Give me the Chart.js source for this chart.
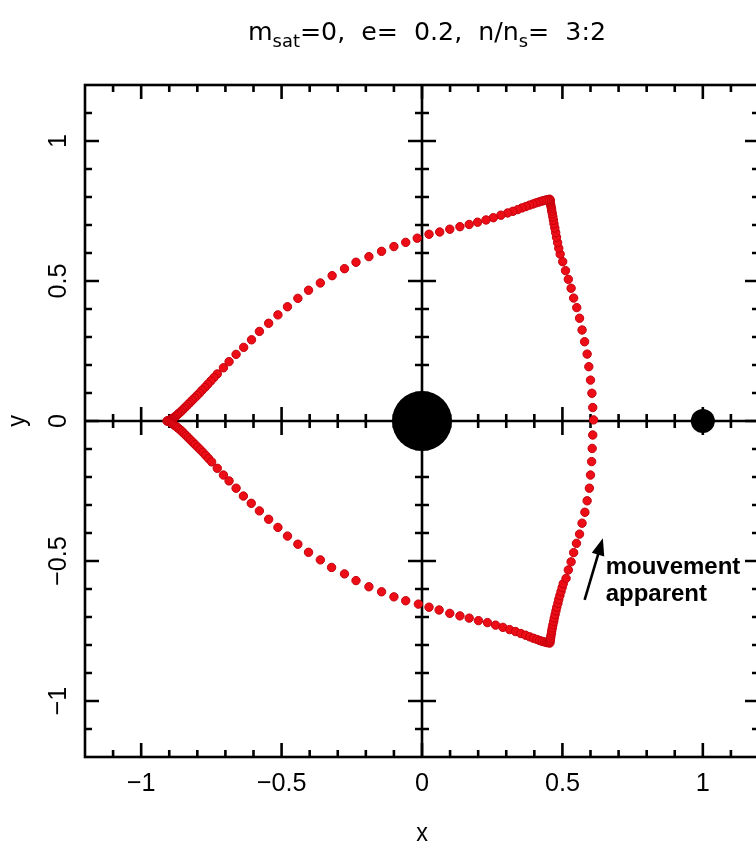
<!DOCTYPE html>
<html>
<head>
<meta charset="utf-8">
<script src="https://cdn.jsdelivr.net/npm/chart.js@4/dist/chart.umd.min.js"></script>
<style>
  html, body { margin: 0; padding: 0; background: #fff; overflow: hidden; }
  #wrap { width: 756px; height: 846px; overflow: hidden; }
</style>
</head>
<body>
<div id="wrap"><canvas id="orbit" width="790" height="846"></canvas></div>
<script>
// apparent orbit (upper half then lower half)
const rightArcUpper = [
  [0.611,0.004],[0.608,0.048],[0.605,0.099],[0.600,0.146],[0.594,0.194],[0.588,0.239],
  [0.579,0.283],[0.570,0.325],[0.561,0.367],[0.551,0.405],[0.540,0.439],[0.531,0.474],
  [0.521,0.506],[0.511,0.537],[0.501,0.569],[0.492,0.596],[0.487,0.617],[0.483,0.637],
  [0.479,0.656],[0.476,0.673],[0.473,0.689],[0.470,0.704],[0.468,0.717],[0.466,0.729],
  [0.464,0.740],[0.462,0.750],[0.461,0.759],[0.459,0.767],[0.458,0.774],[0.457,0.780],
  [0.456,0.785],[0.456,0.789],[0.455,0.792]
];
const topArc = [
  [0.451,0.791],[0.446,0.790],[0.440,0.789],[0.433,0.787],[0.425,0.785],[0.416,0.782],
  [0.406,0.779],[0.395,0.775],[0.383,0.771],[0.370,0.766],[0.356,0.761],[0.341,0.755],
  [0.324,0.749],[0.305,0.743],[0.281,0.735],[0.254,0.726],[0.228,0.718],[0.198,0.710],
  [0.168,0.702],[0.135,0.694],[0.099,0.685],[0.063,0.675],[0.025,0.667],[-0.017,0.653],
  [-0.058,0.638],[-0.100,0.623],[-0.144,0.606],[-0.189,0.587],[-0.235,0.567],[-0.276,0.544],
  [-0.320,0.519],[-0.362,0.493],[-0.404,0.467],[-0.442,0.438],[-0.479,0.408],[-0.513,0.379],
  [-0.546,0.349],[-0.579,0.320],[-0.607,0.290],[-0.635,0.263],[-0.662,0.238],[-0.687,0.212],
  [-0.707,0.190],[-0.729,0.168],[-0.741,0.155],[-0.752,0.143],[-0.763,0.131],[-0.773,0.120],
  [-0.783,0.110],[-0.792,0.100],[-0.801,0.091],[-0.810,0.082],[-0.818,0.074],[-0.826,0.066],
  [-0.833,0.059],[-0.840,0.052],[-0.847,0.045],[-0.853,0.039],[-0.859,0.033],[-0.865,0.028],
  [-0.870,0.023],[-0.875,0.019],[-0.880,0.015],[-0.885,0.011],[-0.889,0.008],[-0.893,0.006],
  [-0.897,0.004],[-0.901,0.002],[-0.905,0.001],[-0.908,0.000]
];
const bottomArc = [
  [-0.905,-0.001],[-0.901,-0.002],[-0.897,-0.004],[-0.893,-0.006],[-0.889,-0.009],[-0.885,-0.012],
  [-0.880,-0.016],[-0.875,-0.020],[-0.870,-0.024],[-0.864,-0.029],[-0.858,-0.034],[-0.852,-0.040],
  [-0.846,-0.046],[-0.839,-0.053],[-0.832,-0.060],[-0.824,-0.068],[-0.816,-0.076],[-0.808,-0.084],
  [-0.799,-0.093],[-0.790,-0.102],[-0.780,-0.112],[-0.770,-0.123],[-0.760,-0.134],[-0.749,-0.146],
  [-0.729,-0.169],[-0.707,-0.193],[-0.687,-0.214],[-0.662,-0.240],[-0.636,-0.268],[-0.608,-0.294],
  [-0.579,-0.321],[-0.546,-0.351],[-0.513,-0.380],[-0.479,-0.411],[-0.442,-0.440],[-0.404,-0.469],
  [-0.362,-0.496],[-0.322,-0.523],[-0.276,-0.546],[-0.235,-0.570],[-0.189,-0.592],[-0.144,-0.610],
  [-0.100,-0.628],[-0.058,-0.642],[-0.013,-0.654],[0.025,-0.665],[0.061,-0.675],[0.099,-0.687],
  [0.135,-0.696],[0.168,-0.704],[0.201,-0.713],[0.233,-0.720],[0.262,-0.729],[0.288,-0.737],
  [0.312,-0.745],[0.333,-0.752],[0.352,-0.759],[0.369,-0.765],[0.384,-0.771],[0.397,-0.776],
  [0.409,-0.780],[0.419,-0.784],[0.428,-0.787],[0.436,-0.789],[0.443,-0.791],[0.449,-0.792],
  [0.455,-0.793]
];
const rightArcLower = [
  [0.456,-0.788],[0.457,-0.782],[0.458,-0.775],[0.459,-0.767],[0.461,-0.758],[0.462,-0.749],
  [0.464,-0.739],[0.466,-0.728],[0.469,-0.716],[0.471,-0.704],[0.474,-0.691],[0.477,-0.678],
  [0.480,-0.665],[0.484,-0.651],[0.487,-0.637],[0.491,-0.623],[0.495,-0.609],[0.499,-0.595],
  [0.503,-0.581],[0.513,-0.562],[0.521,-0.532],[0.531,-0.503],[0.540,-0.470],[0.550,-0.437],
  [0.561,-0.404],[0.570,-0.365],[0.580,-0.326],[0.588,-0.285],[0.596,-0.240],[0.600,-0.193],
  [0.604,-0.145],[0.606,-0.098],[0.608,-0.050]
];

// planet at the origin and satellite at x = 1
const bodyX = [0, 1];
const bodyY = [0, 0];

const majorTicks = [-1, -0.5, 0, 0.5, 1];
const tickLabels = ['\u22121', '\u22120.5', '0', '0.5', '1'];
const minorTicks = [-1.1, -0.9, -0.8, -0.7, -0.6, -0.4, -0.3, -0.2, -0.1,
                    0.1, 0.2, 0.3, 0.4, 0.6, 0.7, 0.8, 0.9, 1.1];

const titleParts = [['m', 0], ['sat', 1], ['=0,  e=  0.2,  n/n', 0], ['s', 1], ['=  3:2', 0]];
const noteLines = ['mouvement', 'apparent'];
const arrowFrom = [0.579, -0.639];
const arrowTo = [0.644, -0.419];
const noteAt = [0.654, -0.546];

const orbitPts = rightArcUpper.concat(topArc, bottomArc, rightArcLower).map(p => ({x: p[0], y: p[1]}));
const bodyPts = bodyX.map((x, i) => ({x: x, y: bodyY[i]}));

function txt(ctx, s, x, y, rot, font, sx) {
  ctx.save();
  ctx.translate(x, y);
  ctx.rotate(rot);
  ctx.scale(sx, 1);
  ctx.font = font;
  ctx.textAlign = 'center';
  ctx.textBaseline = 'middle';
  ctx.fillText(s, 0, 0);
  ctx.restore();
}

const orbitPlot = {
  id: 'orbitPlot',
  beforeDatasetsDraw(chart) {
    const ctx = chart.ctx, xs = chart.scales.x, ys = chart.scales.y;
    const x0 = xs.getPixelForValue(0), y0 = ys.getPixelForValue(0);
    const a = chart.chartArea;
    ctx.save();
    ctx.strokeStyle = '#000';
    ctx.lineWidth = 2.6;
    ctx.beginPath();
    ctx.moveTo(a.left, y0); ctx.lineTo(a.right, y0);
    ctx.moveTo(x0, a.top); ctx.lineTo(x0, a.bottom);
    // ticks crossing the centre axes
    minorTicks.concat(majorTicks).forEach(v => {
      const L = majorTicks.includes(v) ? 14 : 7;
      const px = xs.getPixelForValue(v), py = ys.getPixelForValue(v);
      ctx.moveTo(px, y0 - L); ctx.lineTo(px, y0 + L);
      ctx.moveTo(x0 - L, py); ctx.lineTo(x0 + L, py);
    });
    ctx.stroke();
    ctx.restore();
  },
  afterDatasetsDraw(chart) {
    const ctx = chart.ctx, xs = chart.scales.x, ys = chart.scales.y;
    const a = chart.chartArea;
    ctx.save();
    ctx.strokeStyle = '#000';
    ctx.fillStyle = '#000';
    ctx.lineWidth = 2.6;
    ctx.strokeRect(a.left, a.top, a.right - a.left, a.bottom - a.top);
    ctx.beginPath();
    minorTicks.concat(majorTicks).forEach(v => {
      const L = majorTicks.includes(v) ? 14 : 7;
      const px = xs.getPixelForValue(v), py = ys.getPixelForValue(v);
      ctx.moveTo(px, a.bottom); ctx.lineTo(px, a.bottom - L);
      ctx.moveTo(px, a.top); ctx.lineTo(px, a.top + L);
      ctx.moveTo(a.left, py); ctx.lineTo(a.left + L, py);
      ctx.moveTo(a.right, py); ctx.lineTo(a.right - L, py);
    });
    ctx.stroke();

    // tick labels
    const tf = '26px "Liberation Sans", Arial, sans-serif';
    majorTicks.forEach((v, i) => {
      txt(ctx, tickLabels[i], xs.getPixelForValue(v), a.bottom + 27, 0, tf, 0.97);
      txt(ctx, tickLabels[i], a.left - 26, ys.getPixelForValue(v), -Math.PI / 2, tf, 0.97);
    });
    txt(ctx, 'x', xs.getPixelForValue(0), 834, 0, tf, 0.9);
    txt(ctx, 'y', 18, ys.getPixelForValue(0), -Math.PI / 2, tf, 0.9);

    // title with subscripts, stretched to the wide original face
    const big = '24px "DejaVu Sans", sans-serif', small = '17px "DejaVu Sans", sans-serif';
    let w = 0;
    titleParts.forEach(p => { ctx.font = p[1] ? small : big; w += ctx.measureText(p[0]).width; });
    const sx = 358 / w;
    ctx.save();
    ctx.translate(248, 40);
    ctx.scale(sx, 1);
    ctx.textAlign = 'left';
    ctx.textBaseline = 'alphabetic';
    let cx = 0;
    titleParts.forEach(p => {
      ctx.font = p[1] ? small : big;
      ctx.fillText(p[0], cx, p[1] ? 7 : 0);
      cx += ctx.measureText(p[0]).width;
    });
    ctx.restore();

    // arrow + note
    const ax = xs.getPixelForValue(arrowFrom[0]), ay = ys.getPixelForValue(arrowFrom[1]);
    const bx = xs.getPixelForValue(arrowTo[0]), by = ys.getPixelForValue(arrowTo[1]);
    const ang = Math.atan2(by - ay, bx - ax);
    ctx.lineWidth = 2.6;
    ctx.beginPath();
    ctx.moveTo(ax, ay);
    ctx.lineTo(bx - 12 * Math.cos(ang), by - 12 * Math.sin(ang));
    ctx.stroke();
    ctx.beginPath();
    ctx.moveTo(bx, by);
    ctx.lineTo(bx - 17 * Math.cos(ang) + 6.5 * Math.sin(ang), by - 17 * Math.sin(ang) - 6.5 * Math.cos(ang));
    ctx.lineTo(bx - 17 * Math.cos(ang) - 6.5 * Math.sin(ang), by - 17 * Math.sin(ang) + 6.5 * Math.cos(ang));
    ctx.closePath();
    ctx.fill();
    ctx.font = 'bold 24px "Liberation Sans", Arial, sans-serif';
    ctx.textAlign = 'left';
    ctx.textBaseline = 'alphabetic';
    const nx = xs.getPixelForValue(noteAt[0]), ny = ys.getPixelForValue(noteAt[1]);
    noteLines.forEach((s, i) => ctx.fillText(s, nx, ny + i * 27));
    ctx.restore();
  }
};

new Chart(document.getElementById('orbit'), {
  type: 'scatter',
  data: {
    datasets: [
      {
        data: orbitPts,
        backgroundColor: '#ec0d16',
        borderColor: '#c4000c',
        borderWidth: 1,
        pointRadius: 4.2
      },
      {
        data: bodyPts,
        backgroundColor: '#000',
        borderColor: '#000',
        borderWidth: 0,
        pointRadius: [30, 12]
      }
    ]
  },
  options: {
    responsive: false,
    animation: false,
    // canvas runs past the 756px window; the right frame sits just off-screen as in the original
    layout: { padding: { left: 85, top: 85, right: 31, bottom: 89 } },
    plugins: { legend: { display: false }, tooltip: { enabled: false } },
    scales: {
      x: { type: 'linear', min: -1.2, max: 1.2, display: false },
      y: { type: 'linear', min: -1.2, max: 1.2, display: false }
    }
  },
  plugins: [orbitPlot]
});
</script>
</body>
</html>
